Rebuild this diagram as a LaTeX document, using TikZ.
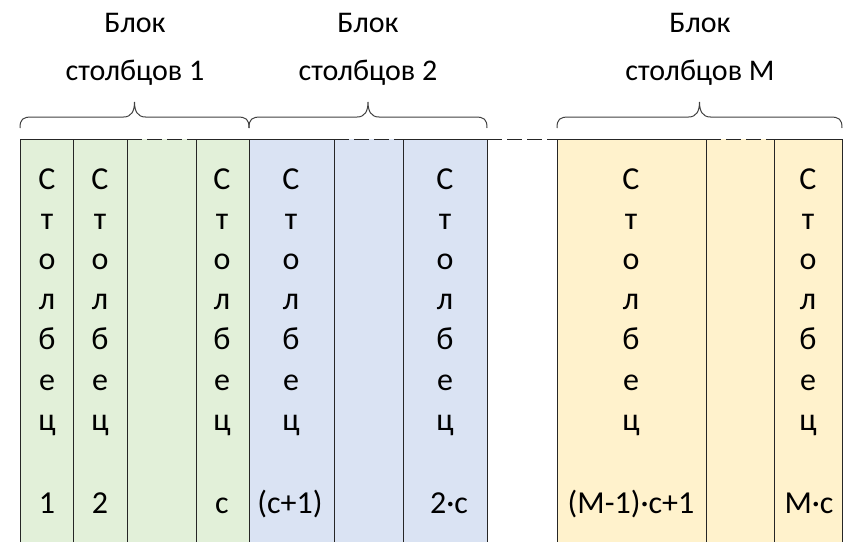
\documentclass[tikz,border=0pt]{standalone}
\usepackage{fontspec}
\setmainfont{Carlito}
\definecolor{greenF}{HTML}{E2F0D9}
\definecolor{blueF}{HTML}{DAE3F3}
\definecolor{yellowF}{HTML}{FFF2CC}
\definecolor{lineC}{HTML}{262626}
\definecolor{braceC}{HTML}{404040}
\begin{document}
\begin{tikzpicture}[x=1pt,y=-1pt,
  gridline/.style={draw=lineC, line width=1pt},
  dashtop/.style={draw=lineC, line width=1pt, dash pattern=on 15pt off 5pt},
  lett/.style={anchor=base, font=\fontsize{32}{32}\selectfont, inner sep=0pt, text=black},
  head/.style={anchor=base, font=\fontsize{30}{30}\selectfont, inner sep=0pt, text=black},
  brc/.style={draw=braceC, line width=1pt}]
\useasboundingbox (0,0) rectangle (846,541);
% fills
\fill[greenF] (20,139) rectangle (249,545);
\fill[blueF] (249,139) rectangle (487,545);
\fill[yellowF] (557,139) rectangle (842,545);
% vertical lines
\foreach \x in {20,73,127,196,249,334,403,487,557,706,774,842}
  \draw[gridline] (\x,139) -- (\x,545);
% top edges
\draw[gridline] (20,139) -- (127,139);
\draw[dashtop] (127,139) -- (196,139);
\draw[gridline] (196,139) -- (334,139);
\draw[dashtop] (334,139) -- (403,139);
\draw[gridline] (403,139) -- (487,139);
\draw[dashtop] (487,139) -- (557,139);
\draw[gridline] (557,139) -- (706,139);
\draw[dashtop] (706,139) -- (774,139);
\draw[gridline] (774,139) -- (842,139);
% braces
\foreach \a/\b in {20/249, 249/487, 557/842}{
  \pgfmathsetmacro{\m}{(\a+\b)/2}
  \draw[brc] (\a,128) .. controls (\a,119) and (\a+3,117) .. (\a+12,117)
    -- (\m-11,117) .. controls (\m-3,117) and (\m,111) .. (\m,102)
    .. controls (\m,111) and (\m+3,117) .. (\m+11,117)
    -- (\b-12,117) .. controls (\b-3,117) and (\b,119) .. (\b,128);
}
% headers
\node[head] (h1a) at (135,32) {Блок};
\node[head] (h1b) at (135,80) {столбцов 1};
\node[head] (h2a) at (368,32) {Блок};
\node[head] (h2b) at (368,80) {столбцов 2};
\node[head] (h3a) at (700,32) {Блок};
\node[head] (h3b) at (700,80) {столбцов M};
% column letters
\foreach \cx/\cn in {47/a,100/b,222/c,291/d,445/e,631/f,808/g}{
  \foreach \l [count=\i] in {С,т,о,л,б,е,ц}
    \node[lett] (col\cn\i) at (\cx,{189+40.2*(\i-1)}) {\l};
}
% numbers
\node[lett] (na) at (47,513) {1};
\node[lett] (nb) at (100,513) {2};
\node[lett] (nc) at (222,513) {c};
\node[lett] (nd) at (290,513) {(c+1)};
\node[lett] (ne) at (449,513) {2·c};
\node[lett] (nf) at (631,513) {(M-1)·c+1};
\node[lett] (ng) at (809,513) {M·c};
\end{tikzpicture}
\end{document}
